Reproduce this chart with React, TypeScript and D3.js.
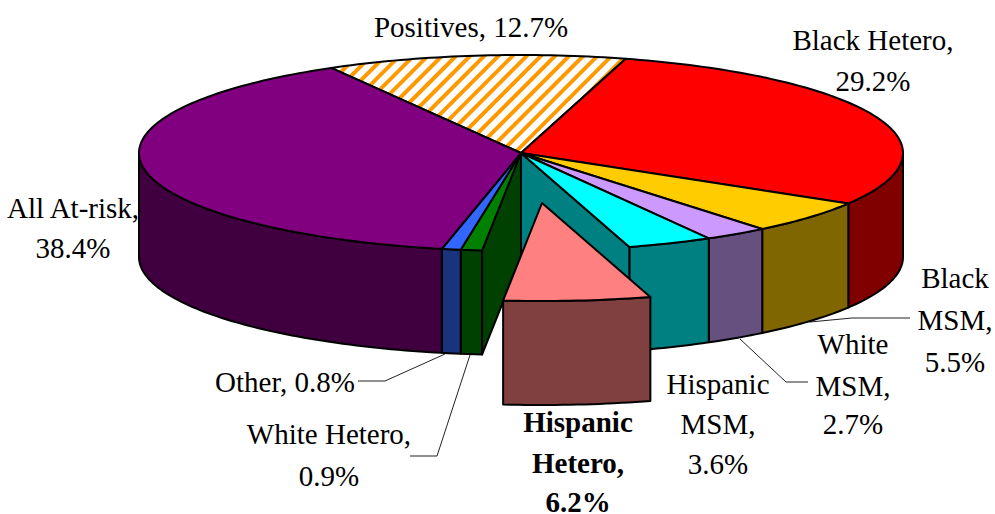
import React from "react";
import * as d3 from "d3";

const categories = ["Positives", "Black Hetero", "Black MSM", "White MSM", "Hispanic MSM", "Hispanic Hetero", "White Hetero", "Other", "All At-risk"];
const values = [12.7, 29.2, 5.5, 2.7, 3.6, 6.2, 0.9, 0.8, 38.4];
const topColors = ["url(#stripes)", "#ff0000", "#ffcc00", "#cc99ff", "#00ffff", "#ff8080", "#008000", "#3366ff", "#800080"];
const sideColors = ["#806633", "#800000", "#806600", "#665080", "#008080", "#804040", "#004000", "#1a337f", "#400040"];
const explodedCategory = "Hispanic Hetero";

const labelLines: string[][] = [
  ["Positives, 12.7%"],
  ["Black Hetero,", "29.2%"],
  ["Black", "MSM,", "5.5%"],
  ["White", "MSM,", "2.7%"],
  ["Hispanic", "MSM,", "3.6%"],
  ["Hispanic", "Hetero,", "6.2%"],
  ["White Hetero,", "0.9%"],
  ["Other, 0.8%"],
  ["All At-risk,", "38.4%"],
];
const labelX = [471, 873, 955, 853, 718, 578, 329, 285, 73];
const labelY: number[][] = [
  [37],
  [50, 91],
  [288, 330, 372],
  [354, 396, 434],
  [394, 434, 474],
  [432, 473, 512],
  [444, 486],
  [392],
  [218, 258],
];
const leaders: Record<string, [number, number][]> = {
  "Black MSM": [[810, 322], [852, 318], [910, 318]],
  "White MSM": [[740, 339], [786, 382], [808, 382]],
  "White Hetero": [[470, 355], [437, 456], [410, 456]],
  "Other": [[445, 354], [385, 381], [358, 381]],
};

const cx = 521, cy = 153, rx = 382, ry = 98, depth = 104;
const explodeDx = 21, explodeDy = 50;
const startDeg = -29.8;

const pie = d3.pie<number>().sort(null)
  .startAngle((startDeg * Math.PI) / 180)
  .endAngle(((startDeg + 360) * Math.PI) / 180);

const line = d3.line<[number, number]>();
const pt = (a: number, dx = 0, dy = 0): [number, number] => [
  cx + dx + rx * Math.sin(a),
  cy + dy - ry * Math.cos(a),
];
const arcPts = (a0: number, a1: number, dx = 0, dy = 0) => {
  const n = Math.max(2, Math.ceil(Math.abs(a1 - a0) / 0.02));
  return d3.range(n + 1).map((i) => pt(a0 + ((a1 - a0) * i) / n, dx, dy));
};
const topPath = (a0: number, a1: number, dx = 0, dy = 0) =>
  line([[cx + dx, cy + dy], ...arcPts(a0, a1, dx, dy)]) + "Z";
const wallPath = (a0: number, a1: number, dx = 0, dy = 0) => {
  const lo = Math.max(a0, Math.PI / 2);
  const hi = Math.min(a1, (3 * Math.PI) / 2);
  if (hi <= lo) return null;
  return line([...arcPts(lo, hi, dx, dy), ...arcPts(hi, lo, dx, dy + depth)]) + "Z";
};
const radialWall = (a: number, dx = 0, dy = 0) =>
  line([
    [cx + dx, cy + dy],
    pt(a, dx, dy),
    pt(a, dx, dy + depth),
    [cx + dx, cy + dy + depth],
  ]) + "Z";

export default function App() {
  const arcs = pie(values);
  const items = arcs.map((d, i) => ({
    name: categories[i],
    a0: d.startAngle,
    a1: d.endAngle,
    top: topColors[i],
    side: sideColors[i],
    exploded: categories[i] === explodedCategory,
    i,
  }));
  const ex = items.find((d) => d.exploded)!;
  const rest = items.filter((d) => !d.exploded);
  const edge = { stroke: "#000", strokeWidth: 2, strokeLinejoin: "round" as const };
  return (
    <svg
      width={995}
      height={514}
      style={{ position: "absolute", left: 0, top: 0, background: "#fff" }}
    >
      <defs>
        <pattern id="stripes" width={10} height={10} patternUnits="userSpaceOnUse" patternTransform="rotate(45)">
          <rect width={10} height={10} fill="#fff" />
          <rect width={4} height={10} fill="#ff9900" />
        </pattern>
      </defs>
      {Object.entries(leaders).map(([k, p]) => (
        <path key={k} d={line(p)!} fill="none" stroke="#222" strokeWidth={1} />
      ))}
      {rest.map((d) => {
        const w = wallPath(d.a0, d.a1);
        return w ? <path key={d.name} d={w} fill={d.side} {...edge} /> : null;
      })}
      <path d={radialWall(ex.a0)} fill={items[ex.i - 1].side} {...edge} />
      <path d={radialWall(ex.a1)} fill={items[ex.i + 1].side} {...edge} />
      {rest.map((d) => (
        <path key={d.name} d={topPath(d.a0, d.a1)} fill={d.top} {...edge} />
      ))}
      <path d={wallPath(ex.a0, ex.a1, explodeDx, explodeDy)!} fill={ex.side} {...edge} />
      <path d={topPath(ex.a0, ex.a1, explodeDx, explodeDy)} fill={ex.top} {...edge} />
      <g fontFamily="'Liberation Serif', serif" fontSize={29} fill="#000" textAnchor="middle">
        {labelLines.map((lines, i) =>
          lines.map((t, j) => (
            <text key={i + "-" + j} x={labelX[i]} y={labelY[i][j]} fontWeight={categories[i] === explodedCategory ? "bold" : "normal"}>
              {t}
            </text>
          ))
        )}
      </g>
    </svg>
  );
}
